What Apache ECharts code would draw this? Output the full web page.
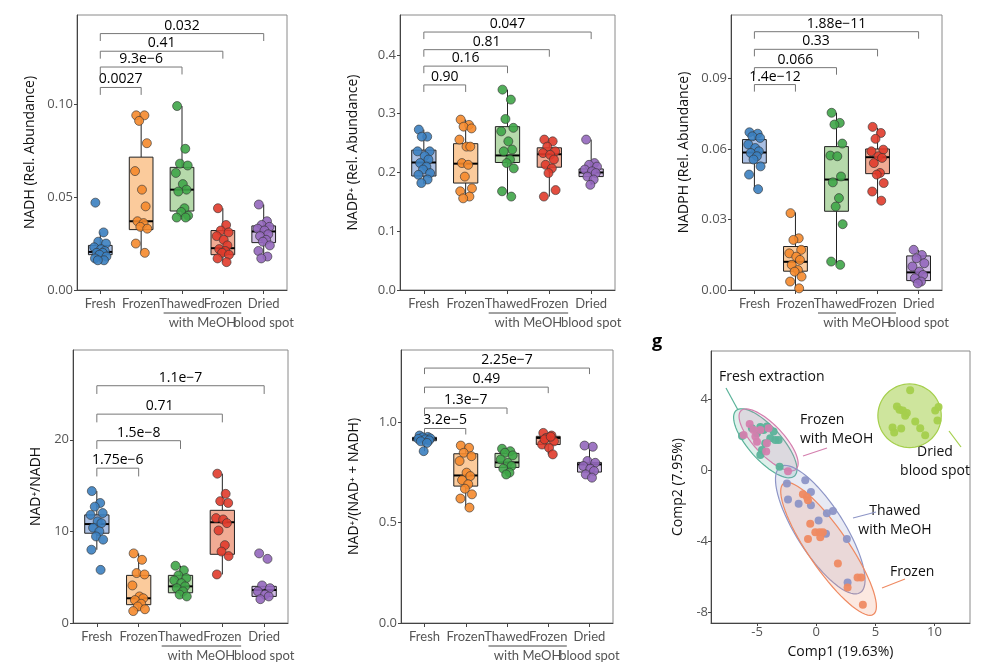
<!DOCTYPE html>
<html>
<head>
<meta charset="utf-8">
<script src="https://cdn.jsdelivr.net/npm/echarts@6/dist/echarts.min.js"></script>
<style>html,body{margin:0;background:#fff}#c{width:990px;height:667px}</style>
</head>
<body>
<div id="c"></div>
<script>
const groups = ["Fresh", "Frozen", "Thawed", "Frozen", "Dried\nblood spot"];
const ptColors = ["#3b7fc0", "#f58a2c", "#3fa548", "#e03b2b", "#9467bd"];
const boxFills = ["#a9bfe3", "#fbcb9c", "#b6d9ab", "#f1ab94", "#cfbce3"];
const jitter = [-0.12, 0.08, -0.05, 0.14, -0.15, 0.02, 0.11, -0.09, 0.06, -0.02, 0.15, -0.13, 0.09, -0.06, 0.12];

// per panel: points per group, box stats [lo, q1, med, q3, hi], brackets [toGroup, y, label]
const nadhPts = [
  [0.047, 0.031, 0.026, 0.025, 0.023, 0.022, 0.021, 0.020, 0.020, 0.019, 0.018, 0.017, 0.016, 0.016],
  [0.094, 0.094, 0.091, 0.079, 0.064, 0.054, 0.045, 0.037, 0.036, 0.034, 0.033, 0.025, 0.020],
  [0.099, 0.076, 0.068, 0.067, 0.063, 0.057, 0.054, 0.053, 0.044, 0.042, 0.040, 0.039, 0.039],
  [0.044, 0.035, 0.032, 0.031, 0.029, 0.027, 0.024, 0.022, 0.021, 0.020, 0.019, 0.017, 0.015],
  [0.046, 0.037, 0.035, 0.034, 0.033, 0.032, 0.030, 0.029, 0.027, 0.026, 0.024, 0.021, 0.018, 0.017]
];
const nadhBox = [[0.016, 0.019, 0.0205, 0.024, 0.031], [0.020, 0.0325, 0.037, 0.0715, 0.094], [0.038, 0.0425, 0.054, 0.066, 0.099], [0.015, 0.019, 0.0225, 0.032, 0.044], [0.017, 0.0255, 0.0315, 0.0345, 0.046]];
const nadhBr = [[2, 0.109, "0.0027"], [3, 0.120, "9.3e\u22126"], [4, 0.1285, "0.41"], [5, 0.138, "0.032"]];

const nadpPts = [
  [0.273, 0.261, 0.261, 0.236, 0.236, 0.228, 0.222, 0.216, 0.210, 0.205, 0.199, 0.196, 0.188, 0.182],
  [0.290, 0.281, 0.278, 0.275, 0.256, 0.244, 0.244, 0.216, 0.213, 0.193, 0.173, 0.168, 0.159, 0.156],
  [0.341, 0.324, 0.291, 0.276, 0.270, 0.253, 0.239, 0.236, 0.222, 0.216, 0.207, 0.168, 0.159],
  [0.256, 0.253, 0.244, 0.236, 0.233, 0.230, 0.222, 0.213, 0.207, 0.199, 0.170, 0.159],
  [0.256, 0.216, 0.213, 0.210, 0.205, 0.202, 0.199, 0.193, 0.188, 0.179]
];
const nadpBox = [[0.180, 0.194, 0.217, 0.238, 0.273], [0.156, 0.182, 0.215, 0.249, 0.290], [0.160, 0.217, 0.229, 0.278, 0.341], [0.159, 0.209, 0.231, 0.242, 0.256], [0.179, 0.193, 0.200, 0.206, 0.256]];
const nadpBr = [[2, 0.349, "0.90"], [3, 0.381, "0.16"], [4, 0.409, "0.81"], [5, 0.439, "0.047"]];

const nadphPts = [
  [0.0671, 0.0665, 0.0654, 0.0647, 0.0619, 0.0604, 0.0590, 0.0583, 0.0569, 0.0555, 0.0526, 0.0491, 0.0429],
  [0.0327, 0.0220, 0.0213, 0.0171, 0.0156, 0.0142, 0.0128, 0.0107, 0.0085, 0.0078, 0.0057, 0.0036, 0.0007],
  [0.0754, 0.0711, 0.0704, 0.0623, 0.0572, 0.0569, 0.0483, 0.0458, 0.0391, 0.0355, 0.0280, 0.0121, 0.0107],
  [0.0694, 0.0668, 0.0643, 0.0597, 0.0590, 0.0569, 0.0562, 0.0540, 0.0498, 0.0491, 0.0455, 0.0419, 0.0380],
  [0.0171, 0.0149, 0.0135, 0.0114, 0.0100, 0.0078, 0.0064, 0.0050, 0.0036, 0.0028]
];
const nadphBox = [[0.043, 0.054, 0.0585, 0.064, 0.067], [0.0007, 0.008, 0.012, 0.0185, 0.033], [0.0107, 0.0335, 0.047, 0.061, 0.0754], [0.038, 0.0495, 0.0565, 0.060, 0.069], [0.003, 0.004, 0.0075, 0.0145, 0.017]];
const nadphBr = [[2, 0.0874, "1.4e\u221212"], [3, 0.0946, "0.066"], [4, 0.1024, "0.33"], [5, 0.1099, "1.88e\u221211"]];

const ratioPts = [
  [14.4, 13.1, 12.7, 12.0, 11.8, 11.1, 10.9, 10.4, 10.0, 9.45, 9.1, 8.0, 5.8],
  [7.6, 6.9, 5.45, 5.3, 4.1, 2.9, 2.7, 2.5, 2.1, 1.8, 1.5, 1.3],
  [6.25, 5.75, 5.2, 4.9, 4.65, 4.35, 4.0, 3.8, 3.45, 3.1, 2.9],
  [16.3, 14.1, 13.3, 13.1, 11.45, 11.3, 10.9, 10.1, 8.5, 7.8, 7.3, 5.3],
  [7.6, 7.0, 4.1, 3.8, 3.45, 3.1, 2.9, 2.6]
];
const ratioBox = [[8.0, 9.8, 10.8, 11.8, 14.4], [1.3, 2.0, 2.7, 5.2, 7.6], [2.9, 3.3, 4.0, 5.2, 6.25], [5.3, 7.5, 11.0, 12.3, 16.3], [2.6, 2.9, 3.6, 4.0, 4.0]];
const ratioBr = [[2, 16.9, "1.75e\u22126"], [3, 19.9, "1.5e\u22128"], [4, 22.8, "0.71"], [5, 25.9, "1.1e\u22127"]];

const fracPts = [
  [0.934, 0.927, 0.925, 0.920, 0.917, 0.915, 0.910, 0.905, 0.897, 0.856],
  [0.884, 0.873, 0.848, 0.831, 0.807, 0.749, 0.732, 0.712, 0.691, 0.669, 0.641, 0.620, 0.575],
  [0.868, 0.856, 0.848, 0.835, 0.815, 0.798, 0.782, 0.769, 0.749, 0.740],
  [0.947, 0.934, 0.922, 0.905, 0.889, 0.873, 0.840, 0.915, 0.928],
  [0.884, 0.878, 0.807, 0.798, 0.782, 0.769, 0.757, 0.740, 0.724]
];
const fracBox = [[0.856, 0.908, 0.918, 0.925, 0.935], [0.575, 0.682, 0.735, 0.843, 0.884], [0.740, 0.775, 0.800, 0.845, 0.868], [0.840, 0.889, 0.922, 0.930, 0.947], [0.724, 0.752, 0.790, 0.800, 0.884]];
const fracBr = [[2, 0.969, "3.2e\u22125"], [3, 1.071, "1.3e\u22127"], [4, 1.175, "0.49"], [5, 1.27, "2.25e\u22127"]];

// PCA
const pcaColors = ["#5bb39a", "#d47fae", "#8d95c6", "#ef8a62", "#a5cf4c"];
const pcaFresh = [[-6.28, 1.92], [-5.44, 2.36], [-5.01, 2.08], [-4.73, 2.42], [-4.45, 2.26], [-4.17, 2.45], [-3.89, 1.79], [-4.59, 1.13], [-4.73, 0.85], [-3.46, 1.70], [-3.61, 2.17], [-3.18, 1.70], [-4.31, 1.51], [-3.10, 0.19]];
const pcaFrozenMeOH = [[-5.63, 2.60], [-6.14, 1.98], [-5.15, 1.89], [-4.73, 2.26], [-4.03, 2.36], [-5.01, 1.60], [-4.17, 1.51], [-4.23, 1.04], [-5.30, 2.26], [-2.39, -0.06]];
const pcaThawed = [[-0.93, -0.57], [-2.48, -0.75], [-0.45, -1.23], [-2.39, -1.66], [-1.49, -1.89], [-0.45, -1.98], [0.20, -2.83], [0.90, -2.42], [1.41, -2.30], [0.82, -3.58], [2.59, -3.87], [2.65, -6.32]];
const pcaFrozen = [[-1.13, -1.36], [-0.79, -1.51], [-0.70, -1.70], [-0.51, -3.02], [-0.08, -3.49], [0.28, -3.49], [0.56, -3.49], [0.34, -3.77], [-0.70, -3.87], [1.83, -5.25], [3.49, -6.04], [3.80, -6.04], [2.65, -6.60], [3.94, -7.58]];
const pcaDried = [[7.94, 4.49], [6.82, 3.58], [7.04, 3.40], [7.32, 3.36], [7.52, 3.06], [10.06, 3.36], [10.34, 3.55], [10.25, 2.79], [8.37, 2.74], [6.45, 2.40], [6.59, 2.11], [7.18, 2.34], [8.79, 2.36], [9.21, 1.96], [7.66, 3.21]];
// ellipse: center, major half-axis vector, minor half-axis vector (data units)
const ellCenter = [[-4.31, 1.51], [-4.03, 1.70], [0.34, -3.35], [1.04, -4.43], [7.89, 3.06]];
const ellMajor = [[2.47, -1.84], [2.32, -1.65], [3.38, -3.54], [3.80, -3.68], [2.68, 0]];
const ellMinor = [[1.04, 0.62], [0.93, 0.56], [1.71, 0.73], [1.39, 0.65], [0, 1.79]];
const ellFillAlpha = [0.2, 0.2, 0.2, 0.2, 0.55];

const panels = [
  { pts: nadhPts, box: nadhBox, br: nadhBr, name: "NADH (Rel. Abundance)", max: 0.148, step: 0.05, dec: 2, drop: 0.004, grid: [77, 15, 210, 275] },
  { pts: nadpPts, box: nadpBox, br: nadpBr, name: "NADP\u207A (Rel. Abundance)", max: 0.468, step: 0.1, dec: 1, drop: 0.012, grid: [400, 15, 215, 275] },
  { pts: nadphPts, box: nadphBox, br: nadphBr, name: "NADPH (Rel. Abundance)", max: 0.117, step: 0.03, dec: 2, drop: 0.003, grid: [731, 15, 211, 275] },
  { pts: ratioPts, box: ratioBox, br: ratioBr, name: "NAD\u207A/NADH", max: 29.8, step: 10, dec: 0, drop: 0.9, grid: [73, 350, 215, 273] },
  { pts: fracPts, box: fracBox, br: fracBr, name: "NAD\u207A/(NAD\u207A + NADH)", max: 1.36, step: 0.5, dec: 1, drop: 0.03, grid: [401, 350, 212, 273] }
];

const font = "Open Sans";
const labFont = "Lato";
const grids = [], xAxes = [], yAxes = [], series = [], graphics = [];

function catAxis(i, vals, showLine) {
  return {
    gridIndex: i, type: "value", position: "bottom", min: 0.43, max: 5.57,
    axisLine: { show: showLine, onZero: false, lineStyle: { color: "#444" } }, splitLine: { show: false },
    axisTick: { show: true, customValues: vals, length: 4, lineStyle: { color: "#444" } },
    axisLabel: { customValues: vals, formatter: v => groups[Math.round(v) - 1], color: "#555", fontSize: 13, fontFamily: labFont, margin: 4, lineHeight: 19 }
  };
}

panels.forEach((p, i) => {
  grids.push({ left: p.grid[0], top: p.grid[1], width: p.grid[2], height: p.grid[3], show: true, borderColor: "#8a8a8a", borderWidth: 1 });
  const xi = xAxes.length;
  xAxes.push(catAxis(i, [1, 3, 5], true));
  xAxes.push(catAxis(i, [2, 4], false));
  const ticks = [];
  for (let v = 0; v <= p.max + 1e-9; v += p.step) ticks.push(+v.toFixed(4));
  yAxes.push({
    gridIndex: i, type: "value", min: 0, max: p.max,
    name: p.name, nameLocation: "middle", nameGap: p.dec === 0 ? 30 : 40,
    nameTextStyle: { color: "#111", fontSize: 14, fontFamily: font },
    axisLine: { show: true, lineStyle: { color: "#444" } }, splitLine: { show: false },
    axisTick: { customValues: ticks, length: 3, lineStyle: { color: "#444" } },
    axisLabel: { customValues: ticks, formatter: v => v.toFixed(p.dec), color: "#555", fontSize: 13, fontFamily: font, margin: 4 }
  });
  series.push({
    type: "custom", xAxisIndex: xi, yAxisIndex: i,
    data: p.box.map((b, g) => [g + 1].concat(b).concat([g])),
    renderItem: (params, api) => {
      const x = api.value(0), w = api.size([0.58, 0])[0];
      const c = k => api.coord([x, api.value(k)]);
      const lo = c(1), q1 = c(2), md = c(3), q3 = c(4), hi = c(5);
      const g = api.value(6);
      const ls = { stroke: "#222", lineWidth: 1 };
      return {
        type: "group", children: [
          { type: "line", shape: { x1: lo[0], y1: lo[1], x2: q1[0], y2: q1[1] }, style: ls },
          { type: "line", shape: { x1: q3[0], y1: q3[1], x2: hi[0], y2: hi[1] }, style: ls },
          { type: "rect", shape: { x: q3[0] - w / 2, y: q3[1], width: w, height: q1[1] - q3[1] }, style: { fill: boxFills[g], stroke: "#222", lineWidth: 1 } },
          { type: "line", shape: { x1: md[0] - w / 2, y1: md[1], x2: md[0] + w / 2, y2: md[1] }, style: { stroke: "#000", lineWidth: 2 } }
        ]
      };
    }
  });
  p.pts.forEach((arr, g) => {
    series.push({
      type: "scatter", xAxisIndex: xi, yAxisIndex: i, symbolSize: 9,
      itemStyle: { color: ptColors[g], borderColor: "#333", borderWidth: 0.7, opacity: 0.9 },
      data: arr.map((v, k) => [g + 1 + jitter[k % jitter.length], v])
    });
  });
  series.push({
    type: "custom", xAxisIndex: xi, yAxisIndex: i,
    data: p.br.map(b => [1, b[0], b[1], b[1] - p.drop]),
    renderItem: (params, api) => {
      const a = api.coord([api.value(0), api.value(2)]);
      const b = api.coord([api.value(1), api.value(2)]);
      const d = api.coord([1, api.value(3)])[1];
      return {
        type: "group", children: [
          { type: "polyline", shape: { points: [[a[0], d], a, b, [b[0], d]] }, style: { stroke: "#777", lineWidth: 1, fill: null } },
          { type: "text", style: { text: p.br[params.dataIndex][2], x: (a[0] + b[0]) / 2, y: a[1] - 1, align: "center", verticalAlign: "bottom", fontSize: 14, fontFamily: font, fill: "#000" } }
        ]
      };
    }
  });
  // "with MeOH" underline label
  const gx = p.grid[0], gy = p.grid[1] + p.grid[3];
  const u = p.grid[2] / 5.14;
  const l1 = gx + (3 - 0.43 - 0.45) * u, l2 = gx + (4 - 0.43 + 0.45) * u;
  graphics.push({ type: "line", shape: { x1: l1, y1: gy + 23, x2: l2, y2: gy + 23 }, style: { stroke: "#444", lineWidth: 1 } });
  graphics.push({ type: "text", x: (l1 + l2) / 2, y: gy + 26, style: { text: "with MeOH", align: "center", verticalAlign: "top", fontSize: 13, fontFamily: labFont, fill: "#555" } });
});

// PCA panel
const pg = 5;
const pxi = xAxes.length;
grids.push({ left: 711, top: 351, width: 259, height: 272, show: true, borderColor: "#8a8a8a", borderWidth: 1 });
xAxes.push({
  gridIndex: pg, type: "value", position: "bottom", min: -8.9, max: 13, name: "Comp1 (19.63%)", nameLocation: "middle", nameGap: 22,
  nameTextStyle: { color: "#111", fontSize: 14, fontFamily: font },
  axisLine: { onZero: false, lineStyle: { color: "#444" } }, splitLine: { show: false },
  axisTick: { customValues: [-5, 0, 5, 10], length: 3, lineStyle: { color: "#444" } },
  axisLabel: { customValues: [-5, 0, 5, 10], color: "#555", fontSize: 13, fontFamily: font, margin: 3 }
});
yAxes.push({
  gridIndex: pg, type: "value", min: -8.6, max: 6.7, name: "Comp2 (7.95%)", nameLocation: "middle", nameGap: 26,
  nameTextStyle: { color: "#111", fontSize: 14, fontFamily: font },
  axisLine: { show: true, onZero: false, lineStyle: { color: "#444" } }, splitLine: { show: false },
  axisTick: { customValues: [-8, -4, 0, 4], length: 3, lineStyle: { color: "#444" } },
  axisLabel: { customValues: [-8, -4, 0, 4], color: "#555", fontSize: 13, fontFamily: font, margin: 3 }
});
ellCenter.forEach((c, k) => {
  series.push({
    type: "custom", xAxisIndex: pxi, yAxisIndex: pg, data: [[c[0], c[1]]], z: 1, silent: true,
    renderItem: (params, api) => {
      const pts = [];
      for (let t = 0; t < 72; t++) {
        const a = t / 72 * Math.PI * 2;
        pts.push(api.coord([c[0] + ellMajor[k][0] * Math.cos(a) + ellMinor[k][0] * Math.sin(a),
          c[1] + ellMajor[k][1] * Math.cos(a) + ellMinor[k][1] * Math.sin(a)]));
      }
      return { type: "polygon", shape: { points: pts }, style: { fill: echarts.color.modifyAlpha(pcaColors[k], ellFillAlpha[k]), stroke: pcaColors[k], lineWidth: 1.2 } };
    }
  });
});
[pcaFresh, pcaFrozenMeOH, pcaThawed, pcaFrozen, pcaDried].forEach((d, k) => {
  series.push({ type: "scatter", xAxisIndex: pxi, yAxisIndex: pg, symbolSize: 8, z: 3, itemStyle: { color: pcaColors[k], opacity: 0.95 }, data: d });
});
const tStyle = { fontSize: 14, fontFamily: font, fill: "#111", lineHeight: 19 };
graphics.push(
  { type: "text", x: 652, y: 333, style: { text: "g", fontSize: 18, fontWeight: "bold", fontFamily: font, fill: "#000" } },
  { type: "text", x: 719, y: 368, style: Object.assign({ text: "Fresh extraction" }, tStyle) },
  { type: "line", shape: { x1: 726, y1: 388, x2: 738, y2: 410 }, style: { stroke: pcaColors[0], lineWidth: 1.2 } },
  { type: "text", x: 800, y: 411, style: Object.assign({ text: "Frozen\nwith MeOH", align: "left" }, tStyle) },
  { type: "line", shape: { x1: 803, y1: 456, x2: 827, y2: 448 }, style: { stroke: pcaColors[1], lineWidth: 1.2 } },
  { type: "text", x: 935, y: 443, style: Object.assign({ text: "Dried\nblood spot", align: "center" }, tStyle) },
  { type: "line", shape: { x1: 949, y1: 431, x2: 961, y2: 447 }, style: { stroke: pcaColors[4], lineWidth: 1.2 } },
  { type: "text", x: 895, y: 502, style: Object.assign({ text: "Thawed\nwith MeOH", align: "center" }, tStyle) },
  { type: "line", shape: { x1: 853, y1: 518, x2: 876, y2: 512 }, style: { stroke: pcaColors[2], lineWidth: 1.2 } },
  { type: "text", x: 890, y: 563, style: Object.assign({ text: "Frozen" }, tStyle) },
  { type: "line", shape: { x1: 882, y1: 588, x2: 905, y2: 579 }, style: { stroke: pcaColors[3], lineWidth: 1.2 } }
);

const chart = echarts.init(document.getElementById("c"), null, { renderer: "canvas" });
chart.setOption({ animation: false, grid: grids, xAxis: xAxes, yAxis: yAxes, series: series, graphic: graphics });
</script>
</body>
</html>
